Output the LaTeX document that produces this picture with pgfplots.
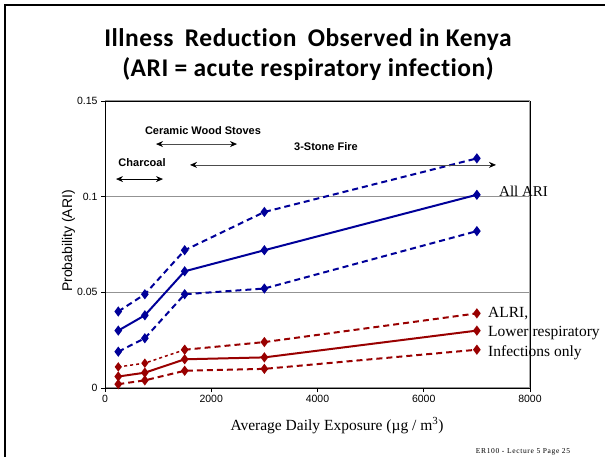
\documentclass[border=0pt]{standalone}
\usepackage{pgfplots}
\pgfplotsset{compat=1.18}
\usepackage{fontspec}
\setmainfont{Liberation Sans}
\newfontfamily\serif{Liberation Serif}
\newfontfamily\footfont[LetterSpace=9]{Liberation Serif}
\newfontfamily\titlefont[Ligatures=NoCommon,LetterSpace=2]{Carlito}
\usetikzlibrary{arrows.meta}
\definecolor{ariblue}{RGB}{0,0,153}
\definecolor{alrired}{RGB}{153,0,0}
\begin{document}
\begin{tikzpicture}
\useasboundingbox (0,0) rectangle (605bp,457bp);
% slide frame
\draw[line width=2bp] (5bp,0) -- (5bp,451.5bp) -- (605bp,451.5bp);
% title
\node[font={\titlefont\bfseries\fontsize{25.5bp}{30bp}\selectfont}, anchor=base] at (308bp,410bp) {Illness\hspace{0.2em} Reduction\hspace{0.2em} Observed in Kenya};
\node[font={\titlefont\bfseries\fontsize{25.5bp}{30bp}\selectfont}, anchor=base] at (308bp,380bp) {(ARI = acute respiratory infection)};
\begin{axis}[
  at={(105bp,69bp)}, anchor=south west,
  scale only axis, width=425bp, height=287bp,
  xmin=0, xmax=8000, ymin=0, ymax=0.15,
  xtick={0,2000,4000,6000,8000},
  ytick={0,0.05,0.1,0.15},
  yticklabels={0,0.05,0.1,0.15},
  scaled x ticks=false, scaled y ticks=false,
  x tick label style={/pgf/number format/1000 sep={}},
  /pgf/number format/assume math mode=true,
  tick label style={font=\fontsize{10.5bp}{12bp}\selectfont, black},
  tick align=outside, xtick pos=bottom, ytick pos=left,
  major tick length=4bp,
  tick style={black, line width=0.8bp},
  ymajorgrids, grid style={gray!85, line width=1bp},
  axis line style={black, line width=0.9bp},
  clip=false,
]
% right edge gray
\draw[gray!70, line width=1bp] (rel axis cs:1,0) -- (rel axis cs:1,1);
% All ARI
\addplot[ariblue, line width=2bp, dash pattern=on 6bp off 4bp, mark=diamond*, mark size=3.5bp, mark options={solid}]
  coordinates {(250,0.040) (750,0.049) (1500,0.072) (3000,0.092) (7000,0.120)};
\addplot[ariblue, line width=2bp, mark=diamond*, mark size=3.5bp]
  coordinates {(250,0.030) (750,0.038) (1500,0.061) (3000,0.072) (7000,0.101)};
\addplot[ariblue, line width=2bp, dash pattern=on 6bp off 4bp, mark=diamond*, mark size=3.5bp, mark options={solid}]
  coordinates {(250,0.019) (750,0.026) (1500,0.049) (3000,0.052) (7000,0.082)};
% ALRI
\addplot[alrired, line width=1.5bp, dash pattern=on 3bp off 3bp, mark=diamond*, mark size=3.5bp, mark options={solid}]
  coordinates {(250,0.011) (750,0.013) (1500,0.020)};
\addplot[alrired, line width=2bp, dash pattern=on 6bp off 4bp, mark=diamond*, mark size=3.5bp, mark options={solid}]
  coordinates {(1500,0.020) (3000,0.024) (7000,0.039)};
\addplot[alrired, line width=2bp, mark=diamond*, mark size=3.5bp]
  coordinates {(250,0.006) (750,0.008) (1500,0.015) (3000,0.016) (7000,0.030)};
\addplot[alrired, line width=2bp, dash pattern=on 6bp off 4bp, mark=diamond*, mark size=3.5bp, mark options={solid}]
  coordinates {(250,0.002) (750,0.004) (1500,0.009) (3000,0.010) (7000,0.020)};
% annotation arrows
\draw[black, line width=0.8bp, {Stealth[length=7bp,width=6bp]}-{Stealth[length=7bp,width=6bp]}] (axis cs:207,0.1092) -- (axis cs:1092,0.1092);
\draw[gray!60!black, line width=0.8bp, {Stealth[length=7bp,width=6bp,black]}-{Stealth[length=7bp,width=6bp,black]}] (axis cs:960,0.1275) -- (axis cs:2485,0.1275);
\draw[gray!60!black, line width=0.8bp, {Stealth[length=7bp,width=6bp,black]}-{Stealth[length=7bp,width=6bp,black]}] (axis cs:1600,0.1166) -- (axis cs:7360,0.1166);
\node[font=\bfseries\fontsize{11bp}{13bp}\selectfont] at (axis cs:697,0.1176) {Charcoal};
\node[font=\bfseries\fontsize{11bp}{13bp}\selectfont] at (axis cs:1845,0.1348) {Ceramic Wood Stoves};
\node[font=\bfseries\fontsize{11bp}{13bp}\selectfont] at (axis cs:4160,0.1260) {3-Stone Fire};
\end{axis}
% right labels
\node[font={\serif\fontsize{15bp}{18bp}\selectfont}, anchor=base west, inner sep=0pt] at (499bp,260bp) {All ARI};
\node[font={\serif\fontsize{15.5bp}{18bp}\selectfont}, anchor=base west, inner sep=0pt] at (488bp,139bp) {ALRI,};
\node[font={\serif\fontsize{15.5bp}{18bp}\selectfont}, anchor=base west, inner sep=0pt] at (488bp,120bp) {Lower respiratory};
\node[font={\serif\fontsize{15.5bp}{18bp}\selectfont}, anchor=base west, inner sep=0pt] at (488bp,100bp) {Infections only};
% axis labels
\node[font=\fontsize{14bp}{16bp}\selectfont, rotate=90, anchor=base] at (72bp,216bp) {Probability (ARI)};
\node[font={\serif\fontsize{15.5bp}{18bp}\selectfont}, anchor=base] at (337bp,27bp) {Average Daily Exposure (\textmu g / m\textsuperscript{3})};
\node[font={\footfont\fontsize{7.5bp}{8bp}\selectfont}, anchor=base] at (523bp,4bp) {ER100 - Lecture 5 Page 25};
\end{tikzpicture}
\end{document}
